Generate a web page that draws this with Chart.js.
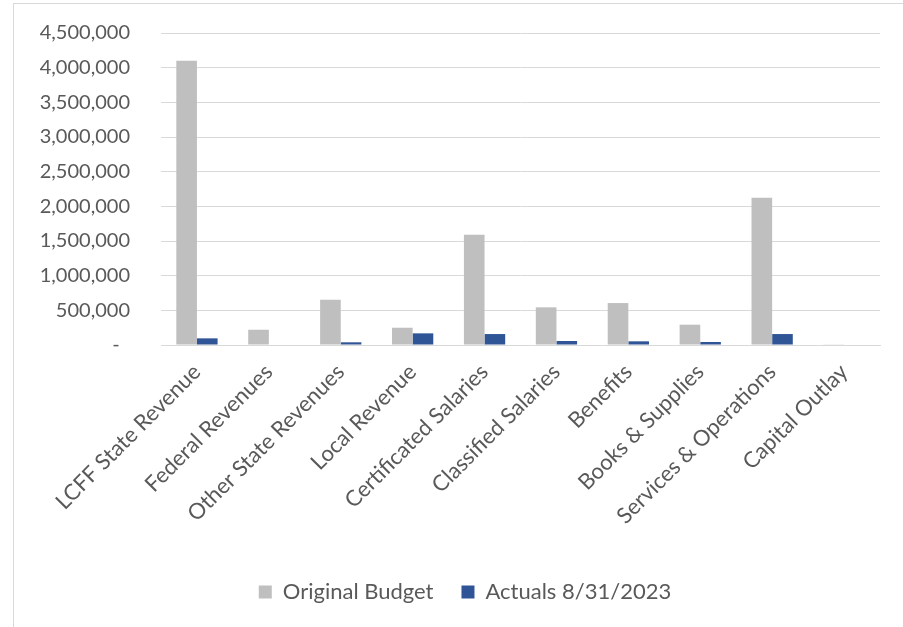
<!DOCTYPE html>
<html>
<head>
<meta charset="utf-8">
<script src="https://cdn.jsdelivr.net/npm/chart.js@4.4.0/dist/chart.umd.min.js"></script>
<style>
  html, body { margin: 0; padding: 0; background: #fff; overflow: hidden; }
  #box {
    position: absolute; left: 13px; top: 3px;
    width: 904px; height: 624px;
    border-left: 1px solid #d9d9d9; border-top: 1px solid #d9d9d9;
  }
</style>
</head>
<body>
<div id="box"><canvas id="chart"></canvas></div>
<script>
const categories = ["LCFF State Revenue", "Federal Revenues", "Other State Revenues", "Local Revenue",
    "Certificated Salaries", "Classified Salaries", "Benefits", "Books & Supplies",
    "Services & Operations", "Capital Outlay"];
const originalBudget = [4100000, 220000, 653000, 249000, 1589000, 543000, 605000, 293000, 2122000, 10000];
const actuals = [96000, 0, 39000, 168000, 158000, 58000, 53000, 43000, 158000, 0];
const yTicks = [0, 500000, 1000000, 1500000, 2000000, 2500000, 3000000, 3500000, 4000000, 4500000];

const textColor = "#595959";
const gridColor = "#d9d9d9";

// the legend in the original is centred on the whole (wider) chart box, not the plot
const shiftLegend = {
    id: "shiftLegend",
    afterLayout(chart) {
        chart.legend.left += 18;
        chart.legend.right += 18;
    }
};

new Chart(document.getElementById("chart"), {
    type: "bar",
    data: {
        labels: categories,
        datasets: [
            { label: "Original Budget", data: originalBudget, backgroundColor: "#bfbfbf" },
            { label: "Actuals 8/31/2023", data: actuals, backgroundColor: "#2f5597" }
        ]
    },
    plugins: [shiftLegend],
    options: {
        responsive: true,
        maintainAspectRatio: false,
        animation: false,
        datasets: { bar: { categoryPercentage: 0.574, barPercentage: 1 } },
        layout: { padding: { top: 29, right: 38, bottom: 15, left: 0 } },
        font: { family: "Lato", size: 20 },
        plugins: {
            tooltip: { enabled: false },
            legend: {
                position: "bottom",
                labels: {
                    color: textColor,
                    font: { family: "Lato", size: 22 },
                    boxWidth: 13,
                    boxHeight: 13,
                    padding: 28
                }
            }
        },
        scales: {
            x: {
                grid: { display: false, drawTicks: false },
                border: { color: gridColor, width: 1 },
                ticks: {
                    color: textColor,
                    font: { family: "Lato", size: 22 },
                    minRotation: 45,
                    maxRotation: 45,
                    padding: 14,
                    autoSkip: false
                },
                afterFit: s => { s.height = 208; }
            },
            y: {
                min: 0,
                max: 4500000,
                afterBuildTicks: s => { s.ticks = yTicks.map(v => ({ value: v })); },
                grid: { color: gridColor, lineWidth: 1, drawTicks: true, tickLength: 28, tickColor: "rgba(0,0,0,0)" },
                border: { display: false },
                ticks: {
                    color: textColor,
                    font: { family: "Lato", size: 20 },
                    padding: 3,
                    callback: v => v === 0 ? "-  " : v.toLocaleString("en-US")
                },
                afterFit: s => { s.width = 147; }
            }
        }
    }
});
</script>
</body>
</html>
